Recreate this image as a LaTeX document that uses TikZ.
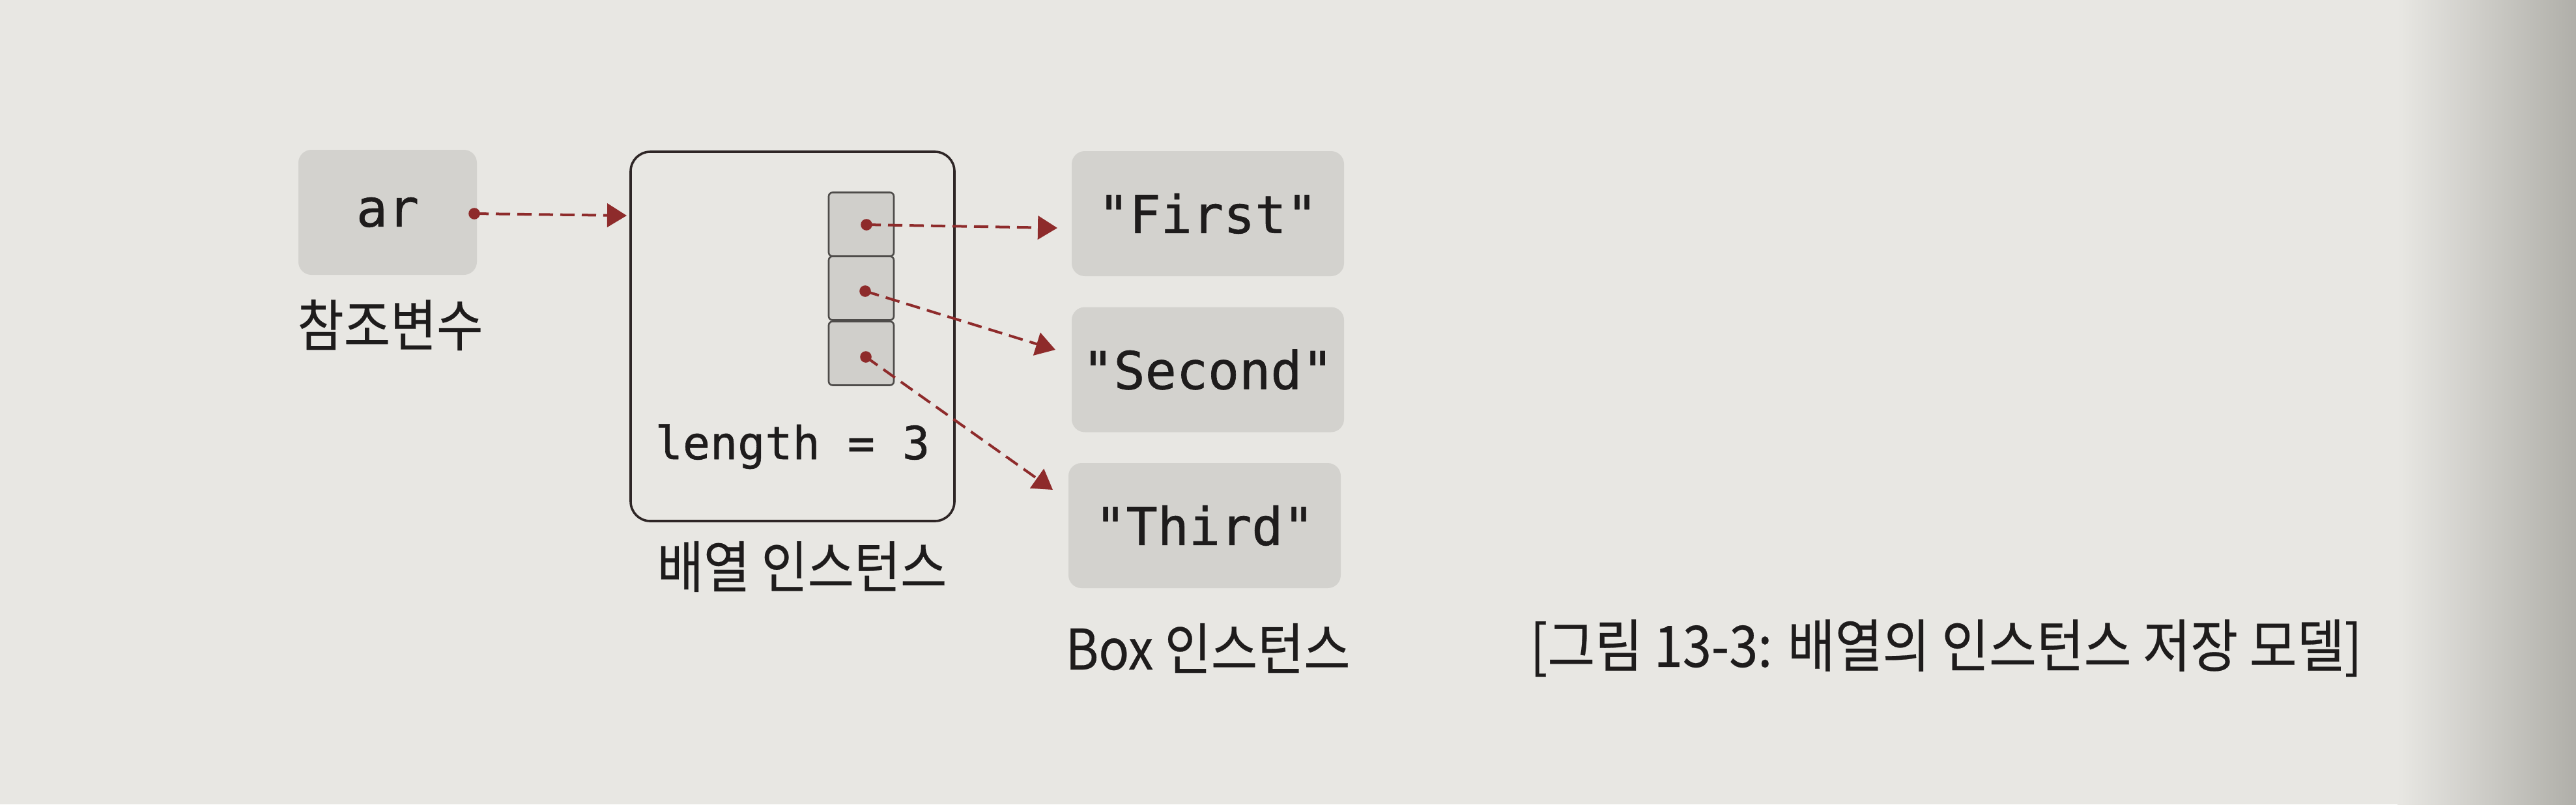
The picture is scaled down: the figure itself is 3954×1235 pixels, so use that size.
\documentclass[tikz,border=0pt]{standalone}
\usepackage{fontspec}
\newfontfamily\krfont[FakeStretch=0.9,FakeBold=0.3]{Noto Sans CJK KR}
\newfontfamily\codefont[FakeBold=0.8]{DejaVu Sans Mono}
\usetikzlibrary{arrows.meta}
\definecolor{bgc}{HTML}{E8E7E3}
\definecolor{edgec}{HTML}{B0AFA9}
\definecolor{boxgray}{HTML}{D3D2CE}
\definecolor{cellgray}{HTML}{D0CFCB}
\definecolor{cellline}{HTML}{4E4C4A}
\definecolor{arrline}{HTML}{2E2626}
\definecolor{arrowred}{HTML}{8E2B2B}
\definecolor{inkc}{HTML}{1E1C1C}
\tikzset{
  valbox/.style={fill=boxgray, rounded corners=5pt, minimum width=104.5pt,
    minimum height=48pt, inner sep=0pt, text=inkc,
    font=\codefont\fontsize{20}{24}\selectfont},
  cellbox/.style={draw=cellline, line width=0.65pt, fill=cellgray,
    rounded corners=1.5pt, minimum width=25pt, minimum height=24.5pt, inner sep=0pt},
  arraybox/.style={draw=arrline, line width=0.9pt, rounded corners=7.5pt,
    minimum width=124.25pt, minimum height=141.75pt, inner sep=0pt},
  ptr/.style={draw=arrowred, line width=1pt, dash pattern=on 5.5pt off 2.75pt,
    -{Triangle[length=7.5pt,width=9pt]}},
  dotc/.style={circle, fill=arrowred, inner sep=0pt, minimum size=4.4pt},
  krlabel/.style={text=inkc, inner sep=0pt, font=\krfont\fontsize{21.5}{26}\selectfont},
  codelabel/.style={text=inkc, inner sep=0pt, font=\codefont\fontsize{17.5}{21}\selectfont}
}
\begin{document}
\begin{tikzpicture}[x=0.25pt,y=-0.25pt]
\useasboundingbox (0,0) rectangle (3954,1235);
\fill[bgc] (0,0) rectangle (3954,1235);
\shade[left color=bgc, right color=edgec] (3680,0) rectangle (3954,1235);

% reference variable
\node[valbox, minimum width=68.5pt] (ar) at (595,326) {ar};
\node[krlabel] (arlab) at (599,499) {참조변수};

% array instance
\node[arraybox] (arr) at (1216.5,516.5) {};
\node[cellbox] (c1) at (1322,344.5) {};
\node[cellbox] (c2) at (1322,442.5) {};
\node[cellbox] (c3) at (1322,542.5) {};
\node[codelabel, anchor=base west] (len) at (1005,705) {length = 3};
\node[krlabel] (arrlab) at (1231,870) {배열 인스턴스};

% Box instances
\node[valbox] (first) at (1854,328) {"First"};
\node[valbox] (second) at (1854,567.5) {"Second"};
\node[valbox] (third) at (1849,807) {"Third"};
\node[krlabel] (boxlab) at (1854,995) {Box 인스턴스};

% caption
\node[krlabel, font=\krfont\fontsize{22}{26}\selectfont] (cap) at (2987,995) {[그림 13-3: 배열의 인스턴스 저장 모델]};

% pointer dots
\node[dotc] (d0) at (728,328) {};
\node[dotc] (d1) at (1330,345) {};
\node[dotc] (d2) at (1328,447) {};
\node[dotc] (d3) at (1329,548) {};

% arrow tips
\coordinate (t0) at (962,331);
\coordinate (t1) at (1623,350);
\coordinate (t2) at (1620,537);
\coordinate (t3) at (1616,752);

\draw[ptr] (d0.center) -- (t0);
\draw[ptr] (d1.center) -- (t1);
\draw[ptr] (d2.center) -- (t2);
\draw[ptr] (d3.center) -- (t3);
\end{tikzpicture}
\end{document}
